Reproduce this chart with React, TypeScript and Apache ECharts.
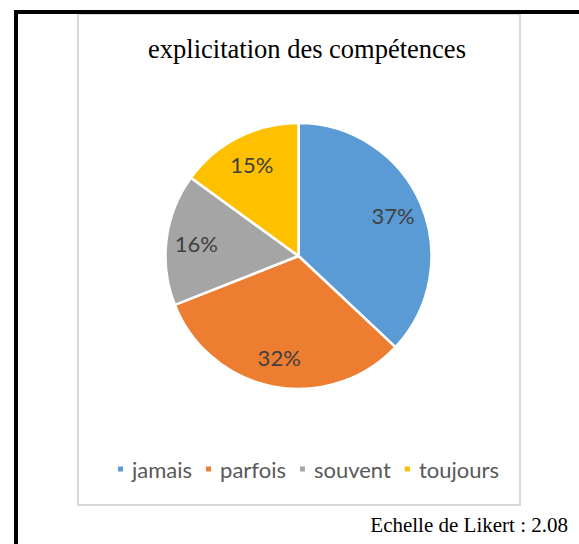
import React, { useEffect, useRef } from "react";
import * as echarts from "echarts";

const categories = ["jamais", "parfois", "souvent", "toujours"];
const values = [37, 32, 16, 15];
const colors = ["#5B9BD5", "#ED7D31", "#A5A5A5", "#FFC000"];
const titleText = "explicitation des compétences";
const footnote = "Echelle de Likert : 2.08";

export default function App() {
  const ref = useRef<HTMLDivElement>(null);
  useEffect(() => {
    if (!ref.current) return;
    const chart = echarts.init(ref.current, undefined, { renderer: "svg" });
    const data = categories.map((c, i) => ({ name: c, value: values[i], itemStyle: { color: colors[i] } }));
    chart.setOption({
      animation: false,
      backgroundColor: "#ffffff",
      title: {
        text: titleText,
        left: 302,
        textAlign: "center",
        top: 30,
        textStyle: { fontFamily: "Liberation Serif", fontSize: 26.5, fontWeight: "normal", color: "#000000" },
      },
      legend: {
        left: 111,
        top: 453,
        icon: "rect",
        itemWidth: 7,
        itemHeight: 7,
        itemGap: 12,
        data: categories,
        textStyle: { fontFamily: "Lato", fontSize: 22, color: "#595959", padding: [0, 0, 0, 3] },
      },
      graphic: [
        { type: "rect", shape: { x: 78, y: 14, width: 442, height: 491 }, style: { fill: "none", stroke: "#d9d9d9", lineWidth: 2 }, z: 1 },
        { type: "line", shape: { x1: 14, y1: 12, x2: 579, y2: 12 }, style: { stroke: "#000", lineWidth: 4 }, z: 2 },
        { type: "line", shape: { x1: 16, y1: 10, x2: 16, y2: 544 }, style: { stroke: "#000", lineWidth: 4 }, z: 2 },
        {
          type: "text",
          x: 568,
          y: 535,
          style: { text: footnote, fill: "#000", font: "21px 'Liberation Serif'", textAlign: "right", textVerticalAlign: "bottom" },
          z: 2,
        },
      ],
      series: [
        {
          type: "pie",
          center: [298.5, 256],
          radius: [0, 133],
          startAngle: 90,
          clockwise: true,
          data,
          itemStyle: { borderColor: "#ffffff", borderWidth: 2.5 },
          label: { show: false },
          labelLine: { show: false },
          emphasis: { disabled: true },
        },
        {
          type: "pie",
          center: [298.5, 256],
          radius: [67, 133],
          startAngle: 90,
          clockwise: true,
          silent: true,
          data: categories.map((c, i) => ({ name: c, value: values[i] })),
          itemStyle: { color: "rgba(0,0,0,0)", borderWidth: 0 },
          label: {
            show: true,
            position: "inside",
            formatter: "{d}%",
            fontFamily: "Lato",
            fontSize: 22,
            color: "#404040",
          },
          labelLine: { show: false },
          emphasis: { disabled: true },
          legendHoverLink: false,
        },
      ],
    });
    return () => chart.dispose();
  }, []);
  return <div ref={ref} style={{ position: "fixed", left: 0, top: 0, width: 579, height: 544 }} />;
}
